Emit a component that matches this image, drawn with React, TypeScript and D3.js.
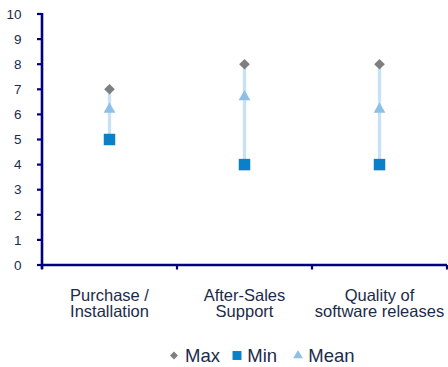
import React from "react";
import * as d3 from "d3";

const categories = [["Purchase /", "Installation"], ["After-Sales", "Support"], ["Quality of", "software releases"]];
const maxValues = [7, 8, 8];
const minValues = [5, 4, 4];
const meanValues = [6.2, 6.7, 6.2];
const yTicks = [0, 1, 2, 3, 4, 5, 6, 7, 8, 9, 10];

const W = 448;
const H = 367;
const AXIS = "#000080";
const TEXT = "#1c2b4a";
const FONT = "Liberation Sans, Arial, sans-serif";

export default function App() {
  const x = d3.scaleBand<number>().domain([0, 1, 2]).range([42, 447]);
  const y = d3.scaleLinear().domain([0, 10]).range([265, 14]);
  const cx = (i: number) => (x(i) as number) + x.bandwidth() / 2;

  const diamond = d3.symbol().type(d3.symbolDiamond2).size(72)();
  const square = d3.symbol().type(d3.symbolSquare).size(132)();
  const tri = d3.symbol().type(d3.symbolTriangle).size(60)();
  const legDiamond = d3.symbol().type(d3.symbolDiamond2).size(40)();
  const legSquare = d3.symbol().type(d3.symbolSquare).size(80)();
  const legTri = d3.symbol().type(d3.symbolTriangle).size(40)();

  const xTickPos = [0, 1, 2].map((i) => x(i) as number).concat([447]);
  const legY = 355.5;

  return (
    <svg width={W} height={H} style={{ position: "absolute", left: 0, top: 0, background: "#fff" }} fontFamily={FONT}>
      {/* y axis */}
      <line x1={42} x2={42} y1={13} y2={269} stroke={AXIS} strokeWidth={2.6} />
      {yTicks.map((t) => (
        <g key={t}>
          <line x1={37} x2={42} y1={y(t)} y2={y(t)} stroke={AXIS} strokeWidth={2.2} />
          <text x={21.5} y={y(t)} dy="0.35em" textAnchor="end" fontSize={13.5} fill={TEXT}>{t}</text>
        </g>
      ))}
      {/* x axis */}
      <line x1={41} x2={447} y1={y(0)} y2={y(0)} stroke={AXIS} strokeWidth={2.6} />
      {xTickPos.map((p, i) => (
        <line key={i} x1={p} x2={p} y1={y(0)} y2={y(0) + 4.5} stroke={AXIS} strokeWidth={2.2} />
      ))}
      {categories.map((lines, i) => (
        <text key={i} x={cx(i)} textAnchor="middle" fontSize={16.5} fill={TEXT}>
          {lines.map((l, j) => (
            <tspan key={j} x={cx(i)} y={300.5 + j * 16.5}>{l}</tspan>
          ))}
        </text>
      ))}
      {/* high-low lines and markers */}
      {categories.map((_, i) => (
        <g key={i}>
          <line x1={cx(i)} x2={cx(i)} y1={y(minValues[i])} y2={y(maxValues[i])} stroke="#c6e2f4" strokeWidth={3.3} />
          <path d={diamond as string} transform={`translate(${cx(i)},${y(maxValues[i])})`} fill="#7f7f7f" />
          <path d={square as string} transform={`translate(${cx(i)},${y(minValues[i])})`} fill="#0a80c8" />
          <path d={tri as string} transform={`translate(${cx(i)},${y(meanValues[i])})`} fill="#8cc0e6" />
        </g>
      ))}
      {/* legend */}
      <g fontSize={18.5} fill={TEXT}>
        <path d={legDiamond as string} transform={`translate(174,${legY})`} fill="#7f7f7f" />
        <text x={185} y={361.7}>Max</text>
        <path d={legSquare as string} transform={`translate(237,${legY})`} fill="#0a80c8" />
        <text x={247.3} y={361.7}>Min</text>
        <path d={legTri as string} transform={`translate(298,${legY})`} fill="#8cc0e6" />
        <text x={308.3} y={361.7}>Mean</text>
      </g>
    </svg>
  );
}
